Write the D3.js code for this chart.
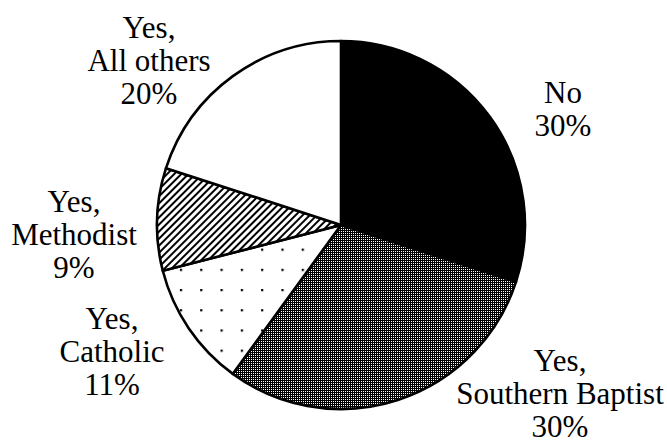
<!DOCTYPE html>
<html>
<head>
<meta charset="utf-8">
<script src="https://cdn.jsdelivr.net/npm/d3@7/dist/d3.min.js"></script>
</head>
<body style="margin:0">
<svg id="chart" width="667" height="443"></svg>
<script>
// Church membership breakdown
const categories = ["No", "Yes, Southern Baptist", "Yes, Catholic", "Yes, Methodist", "Yes, All others"];
const shares = [30, 30, 11, 9, 20];
const labelLines = [
  ["No"],
  ["Yes,", "Southern Baptist"],
  ["Yes,", "Catholic"],
  ["Yes,", "Methodist"],
  ["Yes,", "All others"]
];
const fills = ["url(#solid)", "url(#screen)", "url(#dots)", "url(#hatch)", "url(#blank)"];

// layout
const cx = 341, cy = 225, R = 184;
const labelAnchors = [
  { x: 563, y: 103 },
  { x: 560, y: 371 },
  { x: 112, y: 329 },
  { x: 74,  y: 212 },
  { x: 149, y: 38 }
];
const lineGap = 33;
const fontSize = 31;

const svg = d3.select("#chart");
svg.append("rect").attr("width", 667).attr("height", 443).attr("fill", "#fff");
const defs = svg.append("defs");

defs.append("pattern").attr("id", "solid")
  .attr("patternUnits", "userSpaceOnUse").attr("width", 4).attr("height", 4)
  .append("rect").attr("width", 4).attr("height", 4).attr("fill", "#000");

// fine halftone screen
const scr = defs.append("pattern").attr("id", "screen")
  .attr("patternUnits", "userSpaceOnUse").attr("width", 2).attr("height", 2);
scr.append("rect").attr("width", 2).attr("height", 2).attr("fill", "#000");
scr.append("rect").attr("width", 1).attr("height", 1).attr("fill", "#fff");

// sparse dot grid
const dots = defs.append("pattern").attr("id", "dots")
  .attr("patternUnits", "userSpaceOnUse")
  .attr("x", 184).attr("y", 266)
  .attr("width", 20.3).attr("height", 20.2);
dots.append("rect").attr("width", 20.3).attr("height", 20.2).attr("fill", "#fff");
dots.append("rect").attr("x", 0).attr("y", 0).attr("width", 2.2).attr("height", 2.2).attr("fill", "#000");

// diagonal hatch
const hatch = defs.append("pattern").attr("id", "hatch")
  .attr("patternUnits", "userSpaceOnUse")
  .attr("width", 5).attr("height", 5)
  .attr("patternTransform", "rotate(45)");
hatch.append("rect").attr("width", 5).attr("height", 5).attr("fill", "#fff");
hatch.append("rect").attr("x", 0).attr("y", 0).attr("width", 2).attr("height", 5).attr("fill", "#000");

defs.append("pattern").attr("id", "blank")
  .attr("patternUnits", "userSpaceOnUse").attr("width", 4).attr("height", 4)
  .append("rect").attr("width", 4).attr("height", 4).attr("fill", "#fff");

const pie = d3.pie().sort(null).value(d => d)(shares);
const arc = d3.arc().innerRadius(0).outerRadius(R);

const g = svg.append("g").attr("transform", `translate(${cx},${cy})`);
g.selectAll("path.slice")
  .data(pie)
  .join("path")
  .attr("class", "slice")
  .attr("d", arc)
  .attr("fill", (d, i) => fills[i])
  .attr("stroke", "#000")
  .attr("stroke-width", 2.6)
  .attr("stroke-linejoin", "round");

// labels, one text element per line, centred by measured width
const fmt = d => d + "%";
categories.forEach((c, i) => {
  const lines = labelLines[i].concat([fmt(shares[i])]);
  lines.forEach((ln, k) => {
    const t = svg.append("text")
      .attr("y", labelAnchors[i].y + k * lineGap)
      .attr("font-family", "Liberation Serif")
      .attr("font-size", fontSize)
      .style("font-family", "\"Liberation Serif\", monospace")
      .text(ln);
    const w = t.node().getComputedTextLength();
    t.attr("x", labelAnchors[i].x - w / 2);
  });
});
</script>
</body>
</html>
